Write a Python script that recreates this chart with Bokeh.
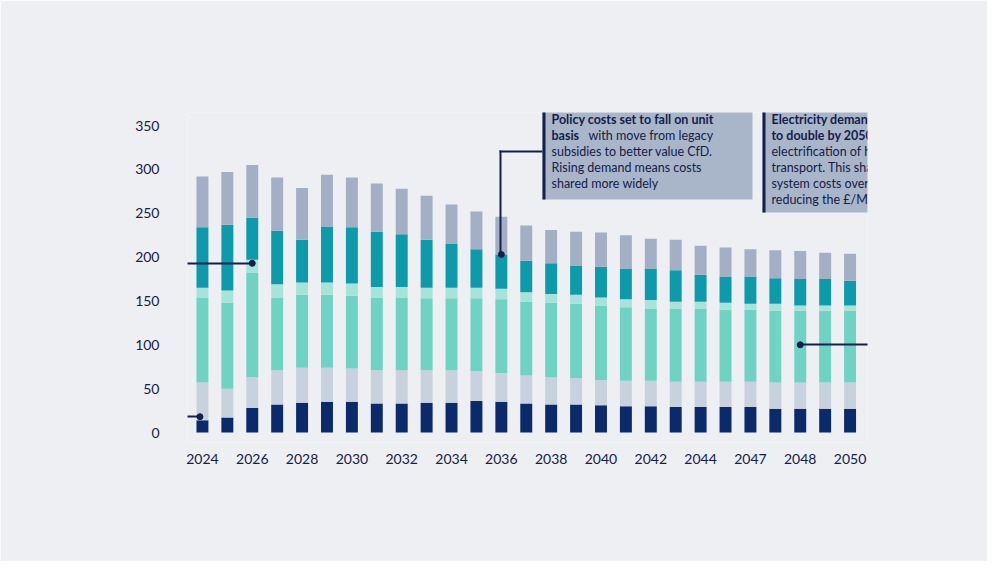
from bokeh.plotting import figure
from bokeh.models import Label, BoxAnnotation, FixedTicker
from bokeh.embed import file_html
from bokeh.resources import INLINE

years = list(range(2024, 2051))
tick_labels = ["2024","2026","2028","2030","2032","2034","2036","2038","2040","2042","2044","2047","2048","2050"]
transmission = [14,17,28,32,34,35,35,33,33,34,34,36,35,33,32,32,31,30,30,29,29,29,29,27,27,27,27]
distribution = [43,33,35,39,40,39,38,38,38,37,37,34,33,32,31,30,29,29,29,29,29,29,29,30,30,30,30]
wholesale = [97,98,119,83,83,83,83,83,83,82,82,83,84,84,85,85,85,84,82,83,83,82,82,82,82,82,82]
balancing = [11,14,15,15,14,14,14,12,12,12,12,12,12,11,10,10,9,9,10,8,8,8,7,8,6,6,6]
policy = [69,75,48,61,49,64,64,63,60,55,50,44,39,36,35,33,35,35,36,36,31,30,31,29,30,30,28]
retail = [58,60,60,61,59,59,57,55,52,50,45,43,43,40,38,39,39,38,34,35,33,33,31,32,32,30,31]

series = [("Transmission costs\nper unit", transmission, "#0b2a6b"),
          ("Distribution\ncosts per unit", distribution, "#c7d2de"),
          ("Wholesale costs\nper unit", wholesale, "#6fd3c3"),
          ("Balancing costs per\nunit", balancing, "#a6e4da"),
          ("Policy costs\nper unit", policy, "#0d9aab"),
          ("Retail costs\nper unit", retail, "#a2afc5")]

BG = "#eeeff3"
NAVY = "#14204a"
W, H = 987, 561
p = figure(width=W, height=H, output_backend="svg", toolbar_location=None,
           x_range=(-0.6, 26.7), y_range=(-11.4, 365),
           min_border_left=187, min_border_right=120, min_border_top=112, min_border_bottom=119)
p.background_fill_color = BG
p.border_fill_color = BG
p.outline_line_color = None
p.grid.visible = False
idx = list(range(len(years)))
bottom = [0]*len(years)
for name, vals, col in series:
    top = [b+v for b, v in zip(bottom, vals)]
    p.vbar(x=idx, bottom=bottom, top=top, width=0.48, color=col, line_color=None)
    bottom = top

p.xaxis.ticker = FixedTicker(ticks=list(range(0, 27, 2)))
p.xaxis.major_label_overrides = {i*2: t for i, t in enumerate(tick_labels)}
p.yaxis.ticker = FixedTicker(ticks=list(range(0, 351, 50)))
for ax in (p.xaxis, p.yaxis):
    ax.axis_line_color = None
    ax.major_tick_line_color = None
    ax.minor_tick_line_color = None
    ax.major_label_text_font = "Lato"
    ax.major_label_text_font_size = "14px"
    ax.major_label_text_color = NAVY
p.yaxis.major_label_standoff = 22

# screen coords are relative to the frame (x from left, y from bottom)
def sx(x): return x - 8 - 187
def sy(y): return 450 - y

labels = []
def lab(x, y, text, bold=False, size="12.5px", color=NAVY):
    labels.append(Label(x=sx(x), y=sy(y), x_units="screen", y_units="screen", text=text,
                        text_font="Lato", text_font_size=size, text_color=color,
                        text_font_style="bold" if bold else "normal", text_baseline="middle"))

def box(x0, y0, x1, y1, color):
    p.add_layout(BoxAnnotation(left=sx(x0), right=sx(x1), top=sy(y0), bottom=sy(y1),
                               left_units="screen", right_units="screen", top_units="screen",
                               bottom_units="screen", fill_color=color, fill_alpha=1, line_color=None))

# title
lab(30, 35, "Typical domestic electricity price per unit", True, "20px", "#0a1a4a")
lab(452, 35, "(£/MWh)", False, "20px", "#0a1a4a")
box(28, 45, 975, 47, "#0a1a4a")
lab(162, 95, "Real April 24 (£/MWh)", False, "13px")

BOXC = "#a9b5c9"
def note(x0, y0, x1, y1, x, ystart, lines, step=16):
    box(x0, y0, x1, y1, BOXC)
    for i, ln in enumerate(lines):
        xx = x
        for txt, b, w in ln:
            lab(xx, ystart + i*step, txt, b)
            xx += w

B, N = True, False
note(28, 205, 151, 315, 36, 222, [[("Balancing costs", B, 0)], [("remain small part", B, 0)],
     [("of bill", B, 43), ("despite", N, 0)], [("headline figures.", N, 0)],
     [("Set to fall with", N, 0)], [("network build", N, 0)]])
box(149, 205, 152, 315, NAVY)
note(28, 325, 151, 463, 36, 341, [[("Network costs", B, 0)], [("rise in short", B, 0)],
     [("term", B, 32), ("to enable", N, 0)], [("electrification but", N, 0)],
     [("come down with", N, 0)], [("rising demand", N, 0)], [("as costs shared", N, 0)],
     [("more widely", N, 0)]])
box(149, 325, 152, 463, NAVY)
note(550, 110, 760, 207, 559, 127, [[("Policy costs set to fall on unit", B, 0)],
     [("basis", B, 37), ("with move from legacy", N, 0)], [("subsidies to better value CfD.", N, 0)],
     [("Rising demand means costs", N, 0)], [("shared more widely", N, 0)]])
box(550, 110, 553, 207, NAVY)
note(770, 110, 972, 220, 779, 127, [[("Electricity demand is forecast", B, 0)],
     [("to double by 2050", B, 112), ("with", N, 0)], [("electrification of heat and", N, 0)],
     [("transport. This shares the", N, 0)], [("system costs over a larger base,", N, 0)],
     [("reducing the £/MWh.", N, 0)]])
box(770, 110, 773, 220, NAVY)
note(882, 272, 975, 463, 892, 288, [[("Wholesale", B, 0)], [("costs set to", B, 0)],
     [("fall", B, 24), ("as more", N, 0)], [("renewables", N, 0)], [("on system", N, 0)],
     [("reduces", N, 0)], [("number of", N, 0)], [("times that", N, 0)], [("gas sets the", N, 0)],
     [("wholesale", N, 0)], [("price.", N, 0)]], step=15.8)
box(882, 272, 885, 463, NAVY)

# connectors
box(152, 270, 258, 272, NAVY)
box(152, 423, 207, 425, NAVY)
box(507, 158, 550, 160, NAVY)
box(507, 158, 509, 262, NAVY)
box(808, 351, 882, 353, NAVY)
p.scatter(x=[2, -0.1, 12, 24], y=[193, 18, 203, 100], size=6, color=NAVY)

# legend
lx = [154, 270, 387, 528, 656, 784]
for (name, vals, col), x in zip(reversed(series), lx):
    box(x, 507, x+34, 541, col)
    l1, l2 = name.split("\n")
    lab(x+39, 519, l1, False, "11px")
    lab(x+39, 530, l2, False, "11px")

for l in labels:
    p.add_layout(l)

open("out.html", "w").write(file_html(p, INLINE))
